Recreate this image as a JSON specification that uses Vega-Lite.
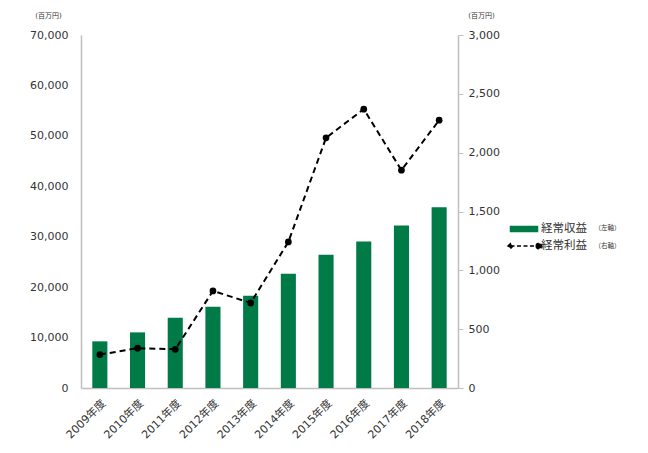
{
  "$schema": "https://vega.github.io/schema/vega-lite/v6.json",
  "width": 377,
  "height": 353,
  "autosize": {"type": "none"},
  "padding": {"left": 81, "top": 35, "right": 190, "bottom": 65},
  "background": "white",
  "config": {
    "font": "DejaVu Sans, Noto Sans CJK JP",
    "view": {"stroke": null},
    "axis": {"grid": false, "labelFontSize": 11, "labelColor": "#333333", "domainColor": "#bfbfbf", "domainWidth": 1.5, "tickColor": "#bfbfbf"}
  },
  "data": {
    "values": [
      {"year": "2009年度", "revenue": 9250, "profit": 284},
      {"year": "2010年度", "revenue": 11030, "profit": 338},
      {"year": "2011年度", "revenue": 13940, "profit": 329},
      {"year": "2012年度", "revenue": 16120, "profit": 825},
      {"year": "2013年度", "revenue": 18300, "profit": 723},
      {"year": "2014年度", "revenue": 22650, "profit": 1241},
      {"year": "2015年度", "revenue": 26420, "profit": 2126},
      {"year": "2016年度", "revenue": 29050, "profit": 2370},
      {"year": "2017年度", "revenue": 32220, "profit": 1851},
      {"year": "2018年度", "revenue": 35840, "profit": 2276}
    ]
  },
  "encoding": {
    "x": {
      "field": "year", "type": "nominal", "sort": null,
      "scale": {"paddingInner": 0.6, "paddingOuter": 0.3},
      "axis": {"title": null, "labelAngle": -45, "ticks": false, "labelPadding": 9}
    }
  },
  "layer": [
    {
      "mark": {"type": "bar", "color": "#007a47"},
      "encoding": {
        "y": {
          "field": "revenue", "type": "quantitative",
          "scale": {"domain": [0, 70000], "nice": false},
          "axis": {
            "title": "(百万円)", "titleAngle": 0, "titleX": -33, "titleY": -20,
            "titleFontSize": 7, "titleFontWeight": "normal", "titleColor": "#333333",
            "titleAlign": "center", "titleBaseline": "middle",
            "ticks": false, "values": [0, 10000, 20000, 30000, 40000, 50000, 60000, 70000],
            "format": ",.0f", "labelPadding": 13
          }
        },
        "color": {
          "datum": "経常収益",
          "scale": {"domain": ["経常収益", "経常利益"], "range": ["#007a47", "#000000"]},
          "legend": {
            "title": null, "orient": "none", "legendX": 437, "legendY": 188,
            "labelFontSize": 11.5, "labelColor": "#333333", "labelOffset": 11,
            "rowPadding": 5, "symbolSize": 100,
            "encode": {
              "symbols": {
                "update": {
                  "shape": {"signal": "datum.value == '経常収益' ? 'M-2.7,-0.5H2.7V0.5H-2.7Z' : 'M-2.7,0H2.7M-3.2,0L-2.7,-0.5L-2.2,0L-2.7,0.5ZM2.45,0A0.55,0.55,0,1,0,3.55,0A0.55,0.55,0,1,0,2.45,0Z'"},
                  "fill": {"signal": "datum.value == '経常収益' ? '#007a47' : '#000000'"},
                  "stroke": {"signal": "datum.value == '経常収益' ? 'transparent' : '#000000'"},
                  "strokeWidth": {"value": 1.5},
                  "strokeDash": {"signal": "datum.value == '経常収益' ? [] : [4, 2.5]"},
                  "opacity": {"value": 1}
                }
              }
            }
          }
        },
        "opacity": {
          "datum": "（左軸）",
          "scale": {"domain": ["（左軸）", "（右軸）"], "range": [1, 1]},
          "legend": {
            "title": null, "orient": "none", "legendX": 507, "legendY": 190,
            "labelFontSize": 6.5, "labelColor": "#333333",
            "symbolSize": 0, "symbolStrokeWidth": 0, "labelOffset": 0, "rowPadding": 10.5,
            "encode": {
              "symbols": {
                "update": {
                  "opacity": {"value": 0},
                  "fill": {"value": "transparent"},
                  "stroke": {"value": "transparent"},
                  "size": {"value": 0}
                }
              }
            }
          }
        }
      }
    },
    {
      "mark": {"type": "line", "strokeDash": [6, 4], "strokeWidth": 2, "point": {"filled": true, "size": 45}},
      "encoding": {
        "y": {
          "field": "profit", "type": "quantitative",
          "scale": {"domain": [0, 3000], "nice": false},
          "axis": {
            "orient": "right",
            "title": "(百万円)", "titleAngle": 0, "titleX": 23, "titleY": -20,
            "titleFontSize": 7, "titleFontWeight": "normal", "titleColor": "#333333",
            "titleAlign": "center", "titleBaseline": "middle",
            "ticks": true, "tickSize": 5, "values": [0, 500, 1000, 1500, 2000, 2500, 3000],
            "format": ",.0f", "labelPadding": 5
          }
        },
        "color": {"datum": "経常利益"},
        "opacity": {"datum": "（右軸）"}
      }
    }
  ],
  "resolve": {"scale": {"y": "independent"}}
}
